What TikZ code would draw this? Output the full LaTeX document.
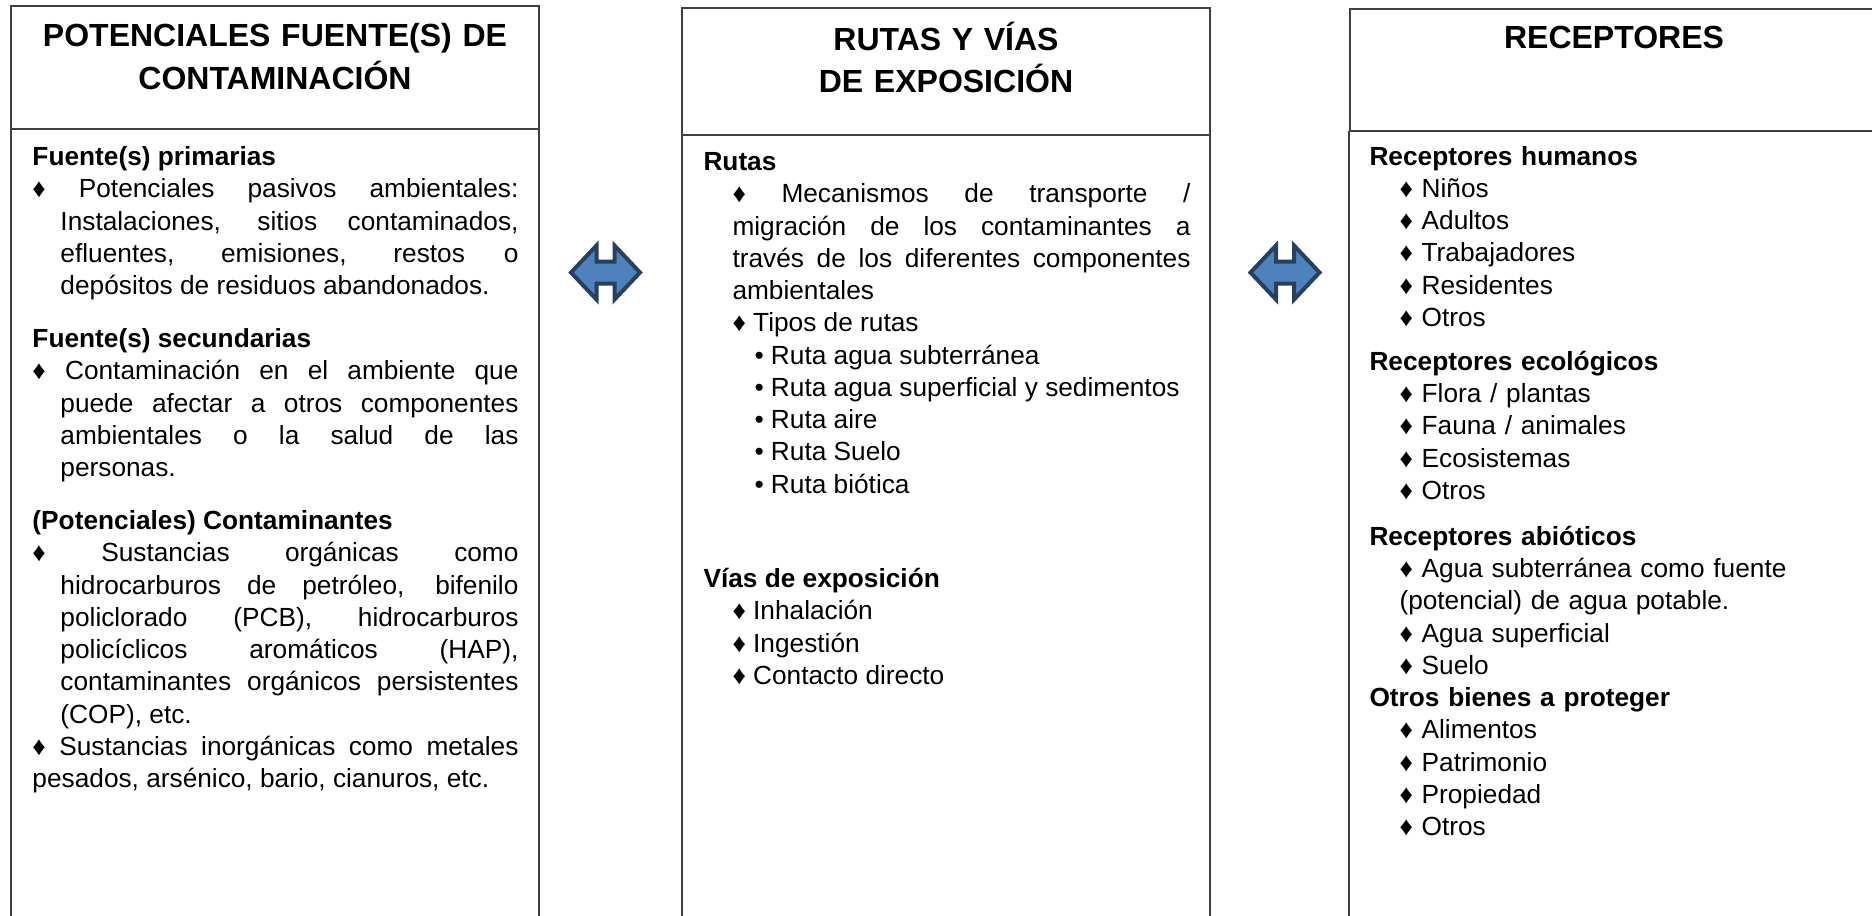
\documentclass[tikz,border=0pt]{standalone}
\usepackage{fontspec}
\setmainfont{Liberation Sans}
\definecolor{boxline}{HTML}{404040}
\definecolor{arrowfill}{HTML}{4F81BD}
\definecolor{arrowline}{HTML}{27405E}
\newcommand{\ind}[1]{\hangindent=#1\hangafter=0 }
\tikzset{
	frame/.style={draw=boxline, line width=0.8pt},
	title/.style={anchor=base, inner sep=0pt, text width=200pt, align=center, font=\fontsize{12.8}{17}\selectfont\bfseries},
	body/.style={anchor=base west, inner sep=0pt, font=\fontsize{10.5}{12.9}\selectfont,
		execute at begin node={\tolerance=9999\hyphenpenalty=10000}},
	twoway/.style={fill=arrowfill, draw=arrowline, line width=1.6pt, line join=miter},
}
\begin{document}
\begin{tikzpicture}[x=0.4pt, y=-0.4pt]
	\useasboundingbox (0,0) rectangle (1872,915);
	\clip (0,0) rectangle (1872,915);
	% marcos
	\draw[frame] (11,6) rectangle (539,129);
	\draw[frame] (11,940) -- (11,129) (539,129) -- (539,940);
	\draw[frame] (682,8) rectangle (1210,135);
	\draw[frame] (682,940) -- (682,135) (1210,135) -- (1210,940);
	\draw[frame] (1350,9) rectangle (1878,131);
	\draw[frame] (1349,940) -- (1349,131);
	% flechas
	\foreach \cx in {605.5, 1285} {
		\begin{scope}[shift={(\cx,272.5)}]
			\filldraw[twoway] (-34.5,0) -- (-9,-27) -- (-9,-11) -- (9,-11) -- (9,-27) -- (34.5,0)
				-- (9,27) -- (9,11) -- (-9,11) -- (-9,27) -- cycle;
		\end{scope}
	}
	% titulos
	\node[title] (fuentesT) at (275,46.7) {POTENCIALES FUENTE(S) DE\\CONTAMINACIÓN};
	\node[title] (rutasT) at (946,50) {RUTAS Y VÍAS\\DE EXPOSICIÓN};
	\node[title] (receptoresT) at (1614,48.3) {RECEPTORES};
	% contenido
	\node[body, text width=194.4pt, align=justify] (fuentes) at (32,165.7) {%
		\textbf{Fuente(s) primarias}\par
		\hangindent=11.2pt\hangafter=1
		♦ Potenciales pasivos ambientales:\linebreak Instalaciones, sitios contaminados,\linebreak
		efluentes, emisiones, restos o\linebreak depósitos de residuos abandonados.\par
		\vspace{8.3pt}\textbf{Fuente(s) secundarias}\par
		\hangindent=11.2pt\hangafter=1
		♦ Contaminación en el ambiente que\linebreak puede afectar a otros componentes\linebreak
		ambientales o la salud de las\linebreak personas.\par
		\vspace{8.3pt}\textbf{(Potenciales) Contaminantes}\par
		\hangindent=11.2pt\hangafter=1
		♦ Sustancias orgánicas como\linebreak hidrocarburos de petróleo, bifenilo\linebreak
		policlorado (PCB), hidrocarburos\linebreak policíclicos aromáticos (HAP),\linebreak
		contaminantes orgánicos persistentes\linebreak (COP), etc.\par
		♦ Sustancias inorgánicas como metales\linebreak pesados, arsénico, bario, cianuros, etc.\par};
	\node[body, text width=194.8pt, align=justify] (rutas) at (703,170.7) {%
		\textbf{Rutas}\par
		\ind{11.6pt}♦ Mecanismos de transporte /\linebreak migración de los contaminantes a\linebreak
		través de los diferentes componentes\linebreak ambientales\par
		\ind{11.6pt}♦ Tipos de rutas\par
		\ind{20.4pt}• Ruta agua subterránea\par
		\ind{20.4pt}• Ruta agua superficial y sedimentos\par
		\ind{20.4pt}• Ruta aire\par
		\ind{20.4pt}• Ruta Suelo\par
		\ind{20.4pt}• Ruta biótica\par
		\vspace{24.9pt}\textbf{Vías de exposición}\par
		\ind{11.6pt}♦ Inhalación\par
		\ind{11.6pt}♦ Ingestión\par
		\ind{11.6pt}♦ Contacto directo\par};
	\node[body, text width=176pt, align=left] (receptores) at (1369,165) {%
		\textbf{Receptores humanos}\par
		\ind{12pt}♦ Niños\par
		\ind{12pt}♦ Adultos\par
		\ind{12pt}♦ Trabajadores\par
		\ind{12pt}♦ Residentes\par
		\ind{12pt}♦ Otros\par
		\vspace{4.7pt}\textbf{Receptores ecológicos}\par
		\ind{12pt}♦ Flora / plantas\par
		\ind{12pt}♦ Fauna / animales\par
		\ind{12pt}♦ Ecosistemas\par
		\ind{12pt}♦ Otros\par
		\vspace{5.5pt}\textbf{Receptores abióticos}\par
		\ind{12pt}♦ Agua subterránea como fuente\newline (potencial) de agua potable.\par
		\ind{12pt}♦ Agua superficial\par
		\ind{12pt}♦ Suelo\par
		\textbf{Otros bienes a proteger}\par
		\ind{12pt}♦ Alimentos\par
		\ind{12pt}♦ Patrimonio\par
		\ind{12pt}♦ Propiedad\par
		\ind{12pt}♦ Otros\par};
\end{tikzpicture}
\end{document}
